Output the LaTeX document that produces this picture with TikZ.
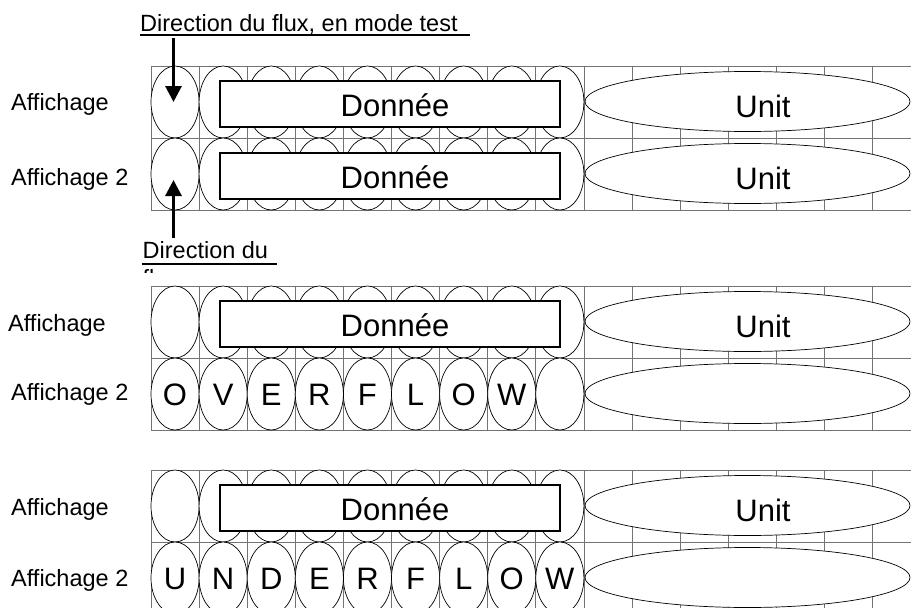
\documentclass[tikz,border=0pt]{standalone}
\usepackage{fontspec}
\setmainfont{Liberation Sans}
\usetikzlibrary{shapes.geometric,arrows.meta}
\begin{document}
\begin{tikzpicture}[x=1pt,y=-1pt,
  gridline/.style={draw=black!55, line width=0.8pt},
  cell/.style={ellipse, draw, fill=white, line width=0.7pt, minimum width=48.1pt, minimum height=72pt, inner sep=0pt},
  unitell/.style={ellipse, draw, fill=white, line width=0.7pt, minimum width=325pt, minimum height=60pt, inner sep=0pt},
  databox/.style={draw, fill=white, line width=2pt, minimum width=339.5pt, minimum height=45.5pt, inner sep=0pt},
  bigtxt/.style={font=\fontsize{31}{34}\selectfont, inner sep=0pt, anchor=base},
  letter/.style={font=\fontsize{31}{34}\selectfont, inner sep=0pt, anchor=base},
  lbl/.style={font=\fontsize{23.5}{27}\selectfont, inner sep=0pt, anchor=base west},
  uline/.style={line width=1.3pt},
  flow/.style={line width=3pt, -{Triangle[width=16pt,length=16pt]}}]
\useasboundingbox (0,0) rectangle (911,608);
\clip (0,0) rectangle (911,608);
% grids
\foreach \t in {66,286,470}{
  \foreach \k in {0,...,15}
    \draw[gridline] ({151+\k*48.1},\t) -- ({151+\k*48.1},{\t+144});
  \foreach \j in {0,1,2}
    \draw[gridline] (151,{\t+\j*72}) -- (911,{\t+\j*72});
}
% ellipses
\foreach \b/\t in {1/66,2/286,3/470}{
  \foreach \r in {0,1}{
    \foreach \k in {0,...,8}
      \node[cell] (c\b-\r-\k) at ({175.05+\k*48.1},{\t+36+\r*72}) {};
    \node[unitell] (u\b-\r) at (747.5,{\t+35.5+\r*72}) {};
  }
}
% data boxes
\node[databox] (d1a) at (389.75,104) {};
\node[databox] (d1b) at (389.75,176) {};
\node[databox] (d2a) at (389.75,324) {};
\node[databox] (d3a) at (389.75,508) {};
\node[bigtxt] (t1a) at (395,116.5) {Donnée};
\node[bigtxt] (t1b) at (395,188.5) {Donnée};
\node[bigtxt] (t2a) at (395,336.5) {Donnée};
\node[bigtxt] (t3a) at (395,520.5) {Donnée};
\node[bigtxt] (v1a) at (763,117.5) {Unit};
\node[bigtxt] (v1b) at (763,189.5) {Unit};
\node[bigtxt] (v2a) at (763,337.5) {Unit};
\node[bigtxt] (v3a) at (763,521.5) {Unit};
% letters
\foreach \L [count=\k from 0] in {O,V,E,R,F,L,O,W}
  \node[letter] (o\k) at ({175.05+\k*48.1},405) {\L};
\foreach \L [count=\k from 0] in {U,N,D,E,R,F,L,O,W}
  \node[letter] (n\k) at ({175.05+\k*48.1},589) {\L};
% left labels
\node[lbl] (l1a) at (11,110) {Affichage};
\node[lbl] (l1b) at (11,185) {Affichage 2};
\node[lbl] (l2a) at (8,331) {Affichage};
\node[lbl] (l2b) at (11,400) {Affichage 2};
\node[lbl] (l3a) at (11,515) {Affichage};
\node[lbl] (l3b) at (11,586) {Affichage 2};
% direction labels
\node[lbl] (dir1) at (140,31) {Direction du flux, en mode test};
\draw[uline] (140,35) -- (470,35);
\node[lbl] (dir2) at (142.5,258) {Direction du};
\draw[uline] (141.5,264) -- (276.5,264);
\begin{scope}
  \clip (130,266) rectangle (300,272.5);
  \node[lbl] (dir2b) at (142.5,286) {flux};
\end{scope}
% arrows
\coordinate (a1s) at (173.5,38);
\coordinate (a2s) at (173.5,238);
\coordinate (a2e) at (173.5,180);
\draw[flow] (a1s) -- (a1s |- c1-0-0.center);
\draw[flow] (a2s) -- (a2e);
\end{tikzpicture}
\end{document}
